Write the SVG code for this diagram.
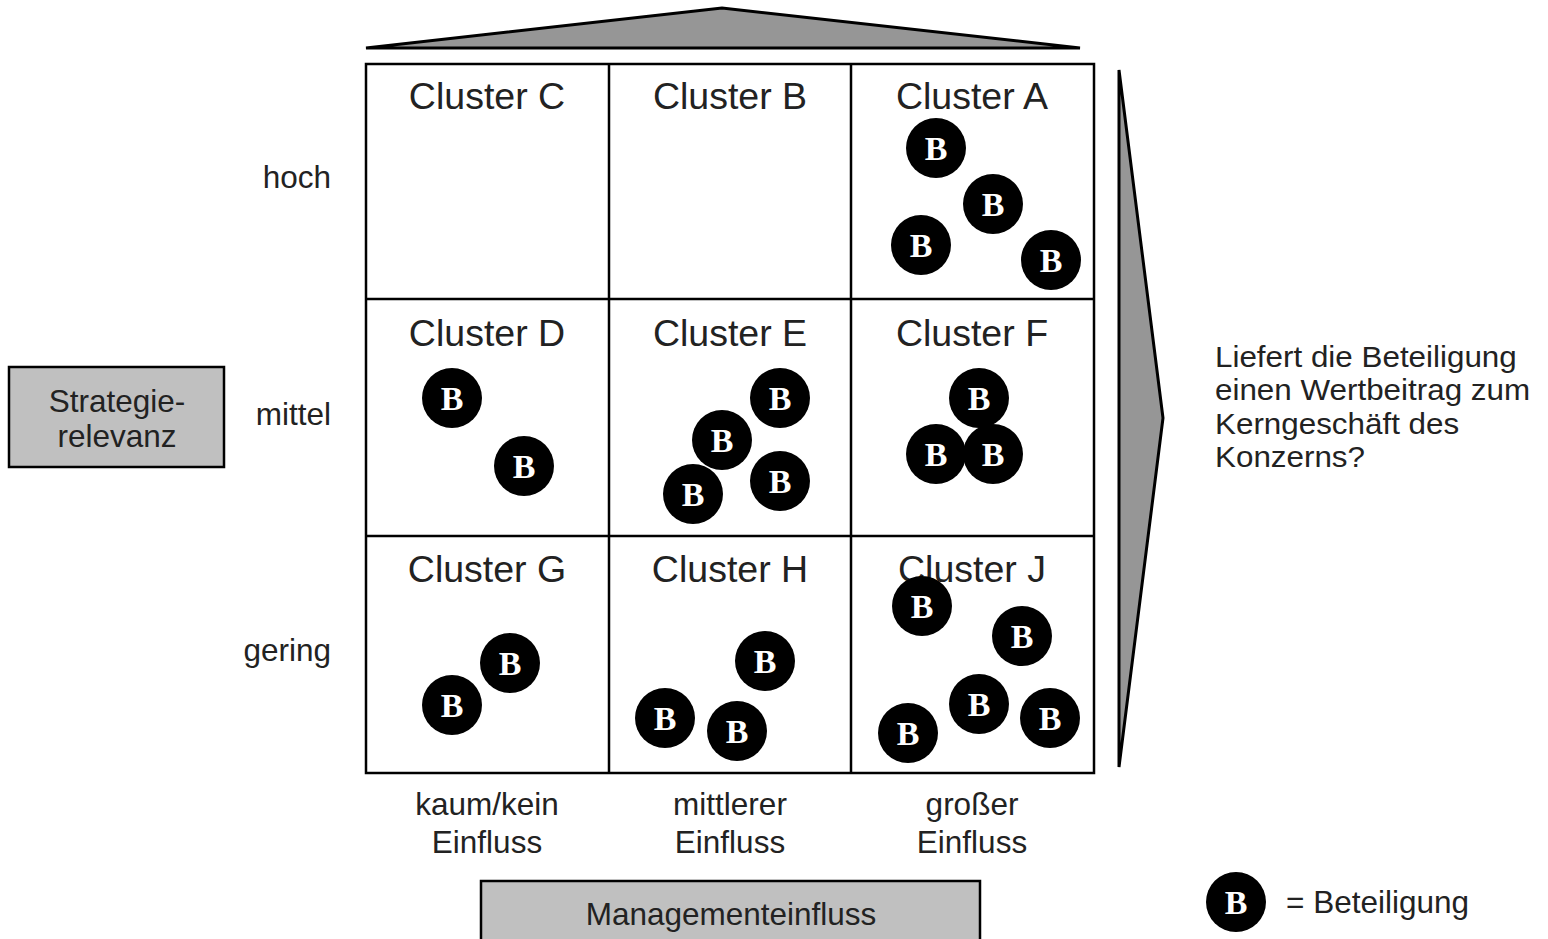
<svg xmlns="http://www.w3.org/2000/svg" width="1548" height="939" viewBox="0 0 1548 939">
  <style>
    .lbl { font-family: "Liberation Sans", Arial, sans-serif; font-size: 31.5px; fill: #222; }
    .q { font-family: "Liberation Sans", Arial, sans-serif; font-size: 28.8px; fill: #222; }
    .title { font-family: "Liberation Sans", Arial, sans-serif; font-size: 37.5px; fill: #222; text-anchor: middle; }
    .mid { text-anchor: middle; }
    .end { text-anchor: end; }
    .grid { fill: none; stroke: #000; stroke-width: 2.5; }
    .wedge { fill: #969696; stroke: #000; stroke-width: 3; stroke-linejoin: miter; }
    .box { fill: #c0c0c0; stroke: #000; stroke-width: 2.5; }
    .bc { fill: #000; }
    .bt { font-family: "Liberation Serif", "Times New Roman", serif; font-weight: bold; font-size: 34px; fill: #fff; text-anchor: middle; }
  </style>
  <defs>
    <g id="beteiligung">
      <circle class="bc" cx="0" cy="0" r="30"/>
      <text class="bt" x="0" y="12">B</text>
    </g>
  </defs>
  <rect width="1548" height="939" fill="#fff"/>

  <!-- axis wedges -->
  <g id="wedge-top">
    <polygon class="wedge" points="366,48 722,8 1080,48"/>
  </g>
  <g id="wedge-right">
    <polygon class="wedge" points="1119,70 1163,418 1119,767"/>
  </g>

  <!-- matrix -->
  <g id="matrix">
    <rect class="grid" x="366" y="64" width="728" height="709"/>
    <line class="grid" x1="609" y1="64" x2="609" y2="773"/>
    <line class="grid" x1="851" y1="64" x2="851" y2="773"/>
    <line class="grid" x1="366" y1="299" x2="1094" y2="299"/>
    <line class="grid" x1="366" y1="536" x2="1094" y2="536"/>
  </g>

  <!-- row labels -->
  <g id="row-labels">
    <text class="lbl end" x="331" y="188">hoch</text>
    <text class="lbl end" x="331" y="425">mittel</text>
    <text class="lbl end" x="331" y="661">gering</text>
  </g>

  <!-- column labels -->
  <g id="col-labels">
    <text class="lbl mid" x="487" y="815">kaum/kein</text>
    <text class="lbl mid" x="487" y="853">Einfluss</text>
    <text class="lbl mid" x="730" y="815">mittlerer</text>
    <text class="lbl mid" x="730" y="853">Einfluss</text>
    <text class="lbl mid" x="972" y="815">großer</text>
    <text class="lbl mid" x="972" y="853">Einfluss</text>
  </g>

  <!-- clusters -->
  <g id="cluster-c"><text class="title" x="487" y="109">Cluster C</text></g>
  <g id="cluster-b"><text class="title" x="730" y="109">Cluster B</text></g>
  <g id="cluster-a">
    <text class="title" x="972" y="109">Cluster A</text>
    <use href="#beteiligung" x="936" y="148"/>
    <use href="#beteiligung" x="993" y="204"/>
    <use href="#beteiligung" x="921" y="245"/>
    <use href="#beteiligung" x="1051" y="260"/>
  </g>
  <g id="cluster-d">
    <text class="title" x="487" y="346">Cluster D</text>
    <use href="#beteiligung" x="452" y="398"/>
    <use href="#beteiligung" x="524" y="466"/>
  </g>
  <g id="cluster-e">
    <text class="title" x="730" y="346">Cluster E</text>
    <use href="#beteiligung" x="780" y="398"/>
    <use href="#beteiligung" x="722" y="440"/>
    <use href="#beteiligung" x="780" y="481"/>
    <use href="#beteiligung" x="693" y="494"/>
  </g>
  <g id="cluster-f">
    <text class="title" x="972" y="346">Cluster F</text>
    <use href="#beteiligung" x="979" y="398"/>
    <use href="#beteiligung" x="936" y="454"/>
    <use href="#beteiligung" x="993" y="454"/>
  </g>
  <g id="cluster-g">
    <text class="title" x="487" y="582">Cluster G</text>
    <use href="#beteiligung" x="510" y="663"/>
    <use href="#beteiligung" x="452" y="705"/>
  </g>
  <g id="cluster-h">
    <text class="title" x="730" y="582">Cluster H</text>
    <use href="#beteiligung" x="765" y="661"/>
    <use href="#beteiligung" x="665" y="718"/>
    <use href="#beteiligung" x="737" y="731"/>
  </g>
  <g id="cluster-j">
    <text class="title" x="972" y="582">Cluster J</text>
    <use href="#beteiligung" x="922" y="606"/>
    <use href="#beteiligung" x="1022" y="636"/>
    <use href="#beteiligung" x="979" y="704"/>
    <use href="#beteiligung" x="1050" y="718"/>
    <use href="#beteiligung" x="908" y="733"/>
  </g>

  <!-- axis titles -->
  <g id="axis-strategie">
    <rect class="box" x="9" y="367" width="215" height="100"/>
    <text class="lbl mid" x="117" y="412">Strategie-</text>
    <text class="lbl mid" x="117" y="447">relevanz</text>
  </g>
  <g id="axis-management">
    <rect class="box" x="481" y="881" width="499" height="70"/>
    <text class="lbl mid" x="731" y="925">Managementeinfluss</text>
  </g>

  <!-- question, slightly widened -->
  <g id="question" transform="translate(1215 0) scale(1.09 1)">
    <text class="q" x="0" y="367">Liefert die Beteiligung</text>
    <text class="q" x="0" y="400.5">einen Wertbeitrag zum</text>
    <text class="q" x="0" y="434">Kerngeschäft des</text>
    <text class="q" x="0" y="467">Konzerns?</text>
  </g>

  <!-- legend -->
  <g id="legend">
    <use href="#beteiligung" x="1236" y="902"/>
    <text class="lbl" x="1286" y="913">= Beteiligung</text>
  </g>
</svg>
